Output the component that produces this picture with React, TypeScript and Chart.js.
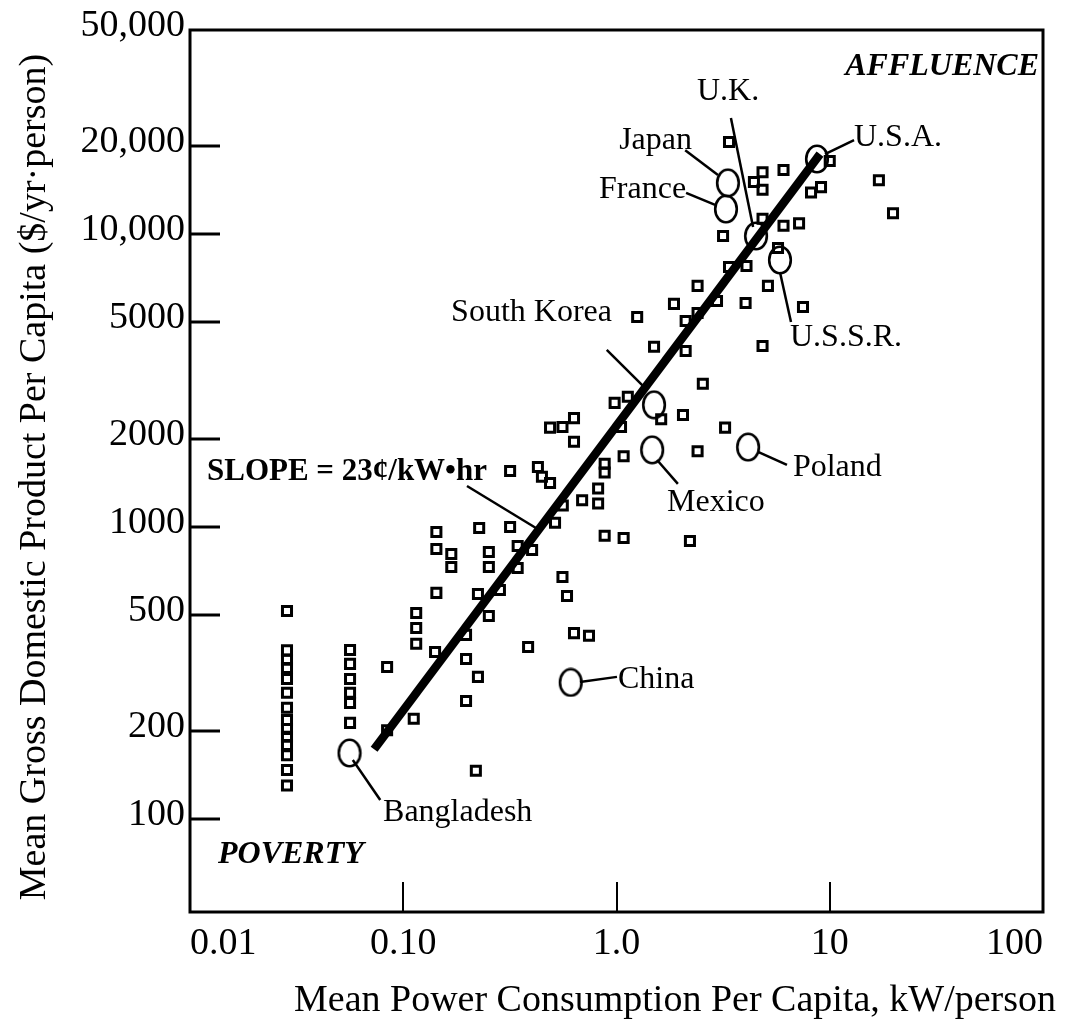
import React, { useEffect, useRef } from "react";
import { Chart, registerables } from "chart.js";

Chart.register(...registerables);

const FONT = "'Liberation Serif', 'Times New Roman', serif";

// ---- axes ----
const xMin = 0.01;
const xMax = 100;
const yMin = 48;
const yMax = 50000;
const xTickValues = [0.01, 0.1, 1, 10, 100];
const xTickLabels = ["0.01", "0.10", "1.0", "10", "100"];
const yTickValues = [100, 200, 500, 1000, 2000, 5000, 10000, 20000, 50000];
const yTickLabels = ["100", "200", "500", "1000", "2000", "5000", "10,000", "20,000", "50,000"];
const xTitle = "Mean Power Consumption Per Capita, kW/person";
const yTitle = "Mean Gross Domestic Product Per Capita ($/yr·person)";

// ---- nations (open squares): kW/person, $/yr·person ----
const nationPower = [
  3.37, 4.84, 6.07, 4.41, 4.84, 10.0, 9.1, 8.17, 17.0, 19.8,
  3.16, 4.84, 6.07, 7.18, 5.72, 4.07, 3.37, 2.4, 5.13, 2.96,
  4.03, 7.49, 1.86, 2.4, 2.11, 1.25, 1.5, 2.11, 4.84, 2.54,
  0.98, 1.13, 1.05, 1.62, 2.05, 3.23, 2.4, 1.08, 0.88, 0.88,
  0.82, 0.82, 0.69, 0.56, 0.515, 0.488, 0.558, 0.632, 0.632, 0.317,
  0.428, 0.447, 0.488, 0.88, 1.08, 2.21, 0.227, 0.317, 0.143, 0.143,
  0.168, 0.168, 0.252, 0.252, 0.344, 0.402, 0.344, 0.558, 0.586, 0.632,
  0.743, 0.385, 0.143, 0.224, 0.284, 0.252, 0.115, 0.115, 0.115, 0.141,
  0.197, 0.197, 0.224, 0.197, 0.219, 0.084, 0.084, 0.112,
];
const nationGdp = [
  20700, 16300, 16600, 15100, 14200, 17800, 14500, 13900, 15300, 11800,
  9870, 11300, 10700, 10900, 8980, 7790, 7730, 6660, 6660, 5910,
  5820, 5640, 5780, 5380, 5050, 5210, 4120, 3990, 4150, 3080,
  2650, 2780, 2190, 2330, 2410, 2180, 1810, 1740, 1640, 1530,
  1350, 1200, 1230, 1180, 1030, 2180, 2190, 2350, 1950, 1550,
  1600, 1480, 1410, 930, 914, 893, 989, 997, 958, 838,
  806, 727, 819, 727, 858, 832, 722, 672, 579, 432,
  423, 387, 593, 588, 607, 494, 506, 450, 397, 372,
  426, 352, 306, 253, 146, 331, 201, 220,
];
const poorColumnAPower = [0.0285, 0.0285, 0.0285, 0.0285, 0.0285, 0.0285, 0.0285, 0.0285, 0.0285, 0.0285, 0.0285, 0.0285, 0.0285, 0.0285];
const poorColumnAGdp = [514, 377, 350, 328, 301, 270, 240, 218, 203, 191, 179, 165, 147, 130];
const poorColumnBPower = [0.0563, 0.0563, 0.0563, 0.0563, 0.0563, 0.0563];
const poorColumnBGdp = [378, 339, 301, 270, 249, 213];

// ---- highlighted countries (open circles) ----
const countryNames = ["Japan", "France", "U.K.", "U.S.A.", "U.S.S.R.", "South Korea", "Mexico", "Poland", "China", "Bangladesh"];
const countryPower = [3.33, 3.26, 4.51, 8.71, 5.84, 1.5, 1.47, 4.14, 0.61, 0.056];
const countryGdp = [15000, 12200, 9870, 18100, 8170, 2610, 1830, 1870, 293, 168];
const labelPower = [2.26, 2.12, 2.385, 12.99, 6.51, 0.952, 1.725, 6.72, 1.016, 0.0804];
const labelGdp = [21000, 14180, 30700, 21500, 4420, 5380, 1204, 1587, 299, 105];
const labelAlign = ["right", "right", "left", "left", "left", "right", "left", "left", "left", "left"];
const leaderFromPower = [2.1, 2.12, 3.44, 13.0, 5.84, 0.9, 1.55, 4.61, 0.674, 0.058];
const leaderFromGdp = [19400, 13850, 25000, 21000, 7430, 4020, 1690, 1800, 294, 159];
const leaderToPower = [2.99, 2.9, 4.37, 9.5, 6.58, 1.36, 1.94, 6.3, 1.005, 0.078];
const leaderToGdp = [15950, 12600, 10600, 18800, 5010, 2980, 1400, 1625, 306, 116];

// ---- trend line and notes ----
const trendPower = [0.073, 9.0];
const trendGdp = [173, 18800];
const slopeText = "SLOPE = 23¢/kW•hr";
const slopeLabelAt = [0.01201, 1538];
const slopeLeaderPower = [0.199, 0.419];
const slopeLeaderGdp = [1377, 989];
const affluenceAt = [95.8, 37360];
const povertyAt = [0.01353, 75.2];

const pts = (xs: number[], ys: number[]) => xs.map((x, i) => ({ x, y: ys[i] }));

const decorPlugin = {
  id: "decor",
  beforeDatasetsDraw(chart: any) {
    const { ctx, chartArea: a, scales } = chart;
    const x = scales.x;
    const y = scales.y;
    ctx.save();
    ctx.strokeStyle = "#000";
    ctx.lineCap = "butt";
    ctx.lineWidth = 3;
    for (const v of yTickValues) {
      if (v <= yMin || v >= yMax) continue;
      const py = Math.round(y.getPixelForValue(v));
      ctx.beginPath();
      ctx.moveTo(a.left, py);
      ctx.lineTo(a.left + 30, py);
      ctx.stroke();
    }
    ctx.lineWidth = 2;
    for (const v of xTickValues) {
      if (v <= xMin || v >= xMax) continue;
      const px = Math.round(x.getPixelForValue(v));
      ctx.beginPath();
      ctx.moveTo(px, a.bottom);
      ctx.lineTo(px, a.bottom - 30);
      ctx.stroke();
    }
    ctx.lineWidth = 3;
    ctx.strokeRect(a.left, a.top, a.right - a.left, a.bottom - a.top);
    ctx.restore();
  },
  afterDatasetsDraw(chart: any) {
    const { ctx, scales } = chart;
    const x = scales.x;
    const y = scales.y;
    ctx.save();
    ctx.fillStyle = "#000";
    ctx.textBaseline = "middle";
    ctx.font = `32px ${FONT}`;
    countryNames.forEach((name, i) => {
      ctx.textAlign = labelAlign[i];
      ctx.fillText(name, x.getPixelForValue(labelPower[i]), y.getPixelForValue(labelGdp[i]));
    });
    ctx.font = `bold 31px ${FONT}`;
    ctx.textAlign = "left";
    ctx.fillText(slopeText, x.getPixelForValue(slopeLabelAt[0]), y.getPixelForValue(slopeLabelAt[1]));
    ctx.font = `italic bold 32px ${FONT}`;
    ctx.textAlign = "right";
    ctx.fillText("AFFLUENCE", x.getPixelForValue(affluenceAt[0]), y.getPixelForValue(affluenceAt[1]));
    ctx.textAlign = "left";
    ctx.fillText("POVERTY", x.getPixelForValue(povertyAt[0]), y.getPixelForValue(povertyAt[1]));

    // axis titles
    ctx.font = `38px ${FONT}`;
    ctx.textAlign = "center";
    ctx.fillText(xTitle, 675, 1001);
    ctx.translate(35, 477);
    ctx.rotate(-Math.PI / 2);
    ctx.fillText(yTitle, 0, 0);
    ctx.restore();
  },
};

export default function App() {
  const ref = useRef<HTMLCanvasElement>(null);
  useEffect(() => {
    document.body.style.margin = "0";
    const canvas = ref.current;
    if (!canvas) return;

    const ellipse = document.createElement("canvas");
    ellipse.width = 26;
    ellipse.height = 30;
    const ec = ellipse.getContext("2d")!;
    ec.lineWidth = 2.6;
    ec.strokeStyle = "#000";
    ec.beginPath();
    ec.ellipse(13, 15, 10.8, 13.2, 0, 0, Math.PI * 2);
    ec.stroke();

    const lineDs = (data: any[], width: number) => ({
      data,
      showLine: true,
      borderColor: "#000",
      borderWidth: width,
      borderCapStyle: "butt",
      pointRadius: 0,
      pointHoverRadius: 0,
    });

    const datasets: any[] = [];
    datasets.push(lineDs(pts(trendPower, trendGdp), 8.5));
    countryNames.forEach((_, i) => {
      datasets.push(
        lineDs(
          pts([leaderFromPower[i], leaderToPower[i]], [leaderFromGdp[i], leaderToGdp[i]]),
          2.5
        )
      );
    });
    datasets.push(lineDs(pts(slopeLeaderPower, slopeLeaderGdp), 2.5));
    datasets.push({
      data: pts(countryPower, countryGdp),
      showLine: false,
      pointStyle: ellipse,
      pointRadius: 12,
      pointHoverRadius: 12,
    });
    datasets.push({
      data: [
        ...pts(nationPower, nationGdp),
        ...pts(poorColumnAPower, poorColumnAGdp),
        ...pts(poorColumnBPower, poorColumnBGdp),
      ],
      showLine: false,
      pointStyle: "rect",
      pointRadius: 6.4,
      pointHoverRadius: 6.4,
      borderWidth: 3,
      borderColor: "#000",
      backgroundColor: "rgba(0,0,0,0)",
    });

    const tickFont = { family: FONT, size: 38 };
    const chart = new Chart(canvas, {
      type: "scatter",
      data: { datasets },
      options: {
        responsive: false,
        animation: false,
        devicePixelRatio: 1,
        layout: { padding: { left: 0, top: 30, right: 36, bottom: 0 } },
        plugins: { legend: { display: false }, tooltip: { enabled: false } },
        events: [],
        scales: {
          x: {
            type: "logarithmic",
            position: "bottom",
            min: xMin,
            max: xMax,
            afterBuildTicks: (s: any) => {
              s.ticks = xTickValues.map((v) => ({ value: v }));
            },
            afterFit: (s: any) => {
              s.height = 110;
            },
            grid: { display: false, drawTicks: false },
            border: { display: false },
            ticks: {
              autoSkip: false,
              maxRotation: 0,
              minRotation: 0,
              align: "inner",
              padding: 9,
              color: "#000",
              font: tickFont,
              callback: (_v: any, i: number) => xTickLabels[i],
            },
          },
          y: {
            type: "logarithmic",
            position: "left",
            min: yMin,
            max: yMax,
            afterBuildTicks: (s: any) => {
              s.ticks = yTickValues.map((v) => ({ value: v }));
            },
            afterFit: (s: any) => {
              s.width = 190;
            },
            grid: { display: false, drawTicks: false },
            border: { display: false },
            ticks: {
              autoSkip: false,
              padding: 5,
              labelOffset: -4,
              color: "#000",
              font: tickFont,
              callback: (_v: any, i: number) => yTickLabels[i],
            },
          },
        },
      } as any,
      plugins: [decorPlugin],
    });
    return () => chart.destroy();
  }, []);

  return (
    <div style={{ width: 1079, height: 1022, background: "#fff" }}>
      <canvas ref={ref} width={1079} height={1022} style={{ display: "block" }} />
    </div>
  );
}
